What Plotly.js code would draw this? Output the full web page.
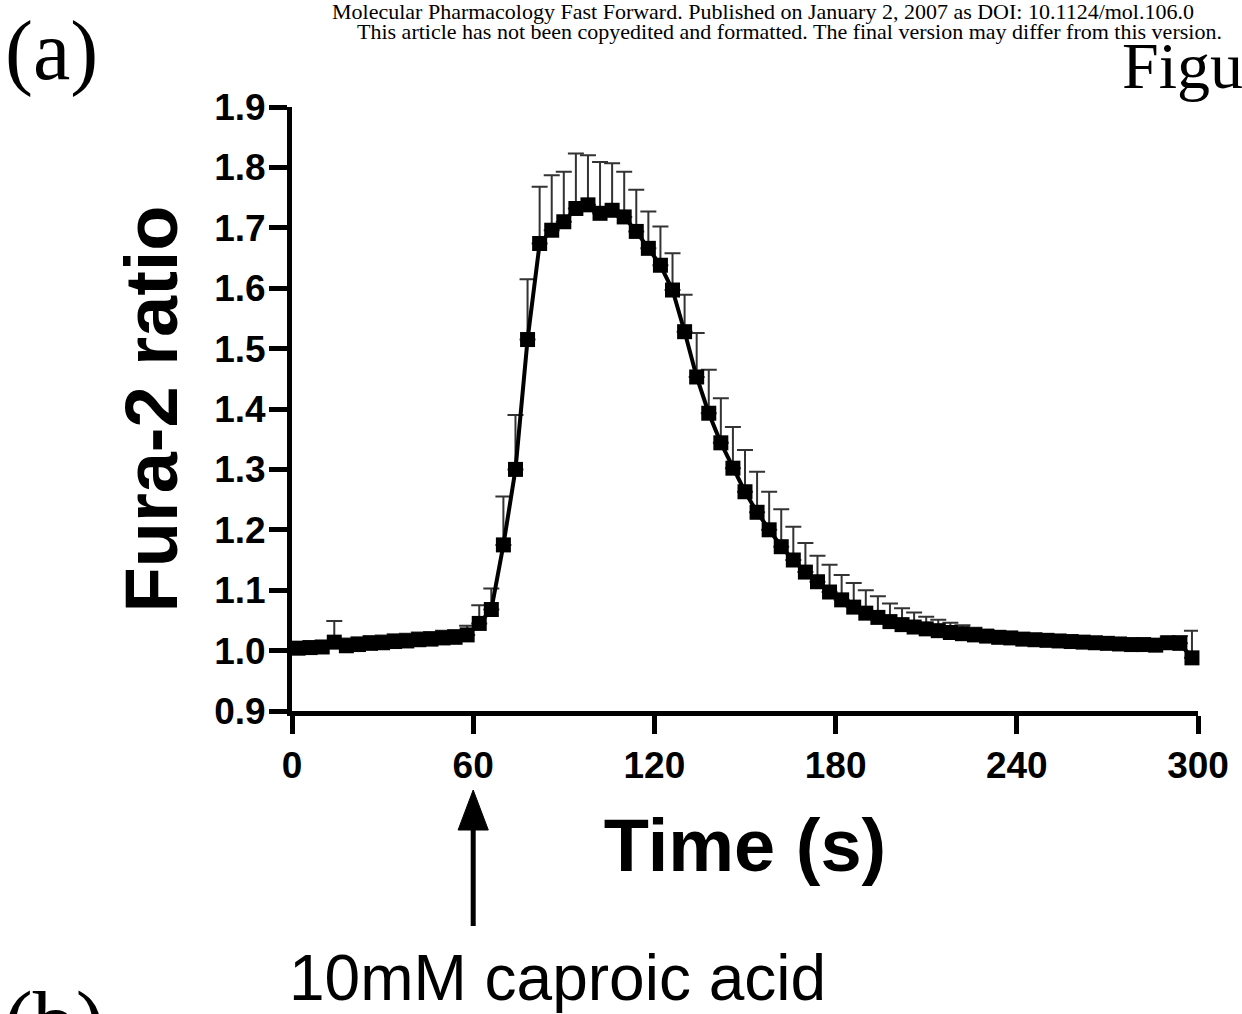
<!DOCTYPE html>
<html>
<head>
<meta charset="utf-8">
<script src="https://cdn.plot.ly/plotly-3.0.1.min.js"></script>
<style>
  html, body { margin: 0; padding: 0; background: #ffffff; }
  #chart { width: 1242px; height: 1014px; }
</style>
</head>
<body>
<div id="chart"></div>
<script>
// ---- data ----
const timeSeconds = [-2, 2, 6, 10, 14, 18, 22, 26, 30, 34, 38, 42, 46, 50, 54, 58, 62, 66, 70, 74, 78,
  82, 86, 90, 94, 98, 102, 106, 110, 114, 118, 122, 126, 130, 134, 138, 142, 146, 150, 154, 158,
  162, 166, 170, 174, 178, 182, 186, 190, 194, 198, 202, 206, 210, 214, 218, 222, 226, 230, 234, 238,
  242, 246, 250, 254, 258, 262, 266, 270, 274, 278, 282, 286, 290, 294, 298];
const fura2Ratio = [1.003, 1.004, 1.005, 1.006, 1.014, 1.008, 1.010, 1.012, 1.013, 1.015, 1.016, 1.018, 1.019, 1.021, 1.022, 1.026, 1.045, 1.068, 1.175, 1.300, 1.515,
  1.674, 1.696, 1.710, 1.732, 1.738, 1.724, 1.729, 1.718, 1.694, 1.666, 1.638, 1.597, 1.528, 1.453, 1.393, 1.344, 1.302, 1.263, 1.229, 1.200,
  1.172, 1.150, 1.130, 1.114, 1.097, 1.084, 1.072, 1.062, 1.055, 1.048, 1.043, 1.039, 1.036, 1.033, 1.030, 1.028, 1.026, 1.024, 1.022, 1.021,
  1.019, 1.018, 1.017, 1.016, 1.015, 1.014, 1.013, 1.012, 1.011, 1.010, 1.010, 1.009, 1.013, 1.012, 0.988];
const fura2Sem = [0.010, 0.010, 0.010, 0.010, 0.035, 0.012, 0.012, 0.012, 0.012, 0.012, 0.012, 0.012, 0.012, 0.012, 0.012, 0.015, 0.030, 0.035, 0.080, 0.090, 0.100,
  0.094, 0.091, 0.083, 0.091, 0.082, 0.085, 0.078, 0.075, 0.069, 0.061, 0.064, 0.061, 0.061, 0.073, 0.072, 0.074, 0.068, 0.069, 0.067, 0.063,
  0.062, 0.055, 0.048, 0.043, 0.045, 0.041, 0.040, 0.038, 0.035, 0.030, 0.027, 0.024, 0.020, 0.018, 0.016, 0.014, 0.012, 0.010, 0.010, 0.008,
  0.008, 0.008, 0.008, 0.008, 0.008, 0.008, 0.008, 0.008, 0.008, 0.008, 0.008, 0.008, 0.010, 0.012, 0.045];
const xTickVals = [0, 60, 120, 180, 240, 300];
const xTickText = ['0', '60', '120', '180', '240', '300'];
const yTickVals = [0.9, 1.0, 1.1, 1.2, 1.3, 1.4, 1.5, 1.6, 1.7, 1.8, 1.9];
const yTickText = ['0.9', '1.0', '1.1', '1.2', '1.3', '1.4', '1.5', '1.6', '1.7', '1.8', '1.9'];
const stimulusTime = 60;
const stimulusLabel = '10mM caproic acid';
const xTitle = 'Time (s)';
const yTitle = 'Fura-2 ratio';
const headerLine1 = 'Molecular Pharmacology Fast Forward. Published on January 2, 2007 as DOI: 10.1124/mol.106.0';
const headerLine2 = 'This article has not been copyedited and formatted. The final version may differ from this version.';

// ---- layout geometry ----
const W = 1242, H = 1014;
const M = { l: 292, r: 44, t: 107, b: 303 };
const plotH = H - M.t - M.b;
const plotW = W - M.l - M.r;
// pixel -> paper helpers for decorations outside the plot area
const px2paperX = px => (px - M.l) / plotW;
const py2paperY = py => (H - M.b - py) / plotH;

const sansBold = { family: 'Liberation Sans, Arial, sans-serif', color: '#000', weight: 'bold' };
const serif = 'Liberation Serif, Times New Roman, serif';

const trace = {
  type: 'scatter',
  mode: 'lines+markers',
  x: timeSeconds,
  y: fura2Ratio,
  cliponaxis: false,
  line: { color: '#000', width: 4 },
  marker: { symbol: 'square', size: 15, color: '#000', line: { width: 0 } },
  error_y: {
    type: 'data', symmetric: false, array: fura2Sem, arrayminus: fura2Sem.map(() => 0),
    color: '#333', thickness: 2, width: 8
  },
  hoverinfo: 'x+y'
};

const arrowTipPy = 790, arrowBasePy = 830, arrowTailPy = 926, headHalf = 5; // headHalf in seconds
const yTip = py2paperY(arrowTipPy), yBase = py2paperY(arrowBasePy), yTail = py2paperY(arrowTailPy);

const layout = {
  width: W, height: H,
  margin: M,
  paper_bgcolor: '#fff', plot_bgcolor: '#fff',
  showlegend: false,
  xaxis: {
    range: [0, 300], tickvals: xTickVals, ticktext: xTickText,
    showline: true, linecolor: '#000', linewidth: 5, mirror: false,
    ticks: 'outside', ticklen: 18, tickwidth: 5, tickcolor: '#000',
    tickfont: Object.assign({ size: 37 }, sansBold),
    showgrid: false, zeroline: false, automargin: false,
    title: { text: xTitle, font: Object.assign({ size: 74 }, sansBold), standoff: 35 }
  },
  yaxis: {
    range: [0.9, 1.9], tickvals: yTickVals, ticktext: yTickText,
    showline: true, linecolor: '#000', linewidth: 5, mirror: false,
    ticks: 'outside', ticklen: 18, tickwidth: 5, tickcolor: '#000',
    ticklabelstandoff: -4,
    tickfont: Object.assign({ size: 37 }, sansBold),
    showgrid: false, zeroline: false, automargin: false,
    title: { text: yTitle, font: Object.assign({ size: 74 }, sansBold), standoff: 14 }
  },
  shapes: [
    { type: 'line', xref: 'x', yref: 'paper', x0: stimulusTime, x1: stimulusTime, y0: yTail, y1: yBase,
      line: { color: '#000', width: 5 } },
    { type: 'path', xref: 'x', yref: 'paper',
      path: 'M ' + stimulusTime + ' ' + yTip + ' L ' + (stimulusTime - headHalf) + ' ' + yBase + ' L ' + (stimulusTime + headHalf) + ' ' + yBase + ' Z',
      fillcolor: '#000', line: { color: '#000', width: 1 } }
  ],
  annotations: [
    { text: stimulusLabel, xref: 'paper', yref: 'paper', x: px2paperX(557), y: py2paperY(978),
      xanchor: 'center', yanchor: 'middle', showarrow: false,
      font: { family: 'Liberation Sans, Arial, sans-serif', size: 64, color: '#000' } },
    { text: headerLine1, xref: 'paper', yref: 'paper', x: px2paperX(330), y: py2paperY(11),
      xanchor: 'left', yanchor: 'middle', showarrow: false,
      font: { family: serif, size: 22, color: '#000' } },
    { text: headerLine2, xref: 'paper', yref: 'paper', x: px2paperX(355), y: py2paperY(31),
      xanchor: 'left', yanchor: 'middle', showarrow: false,
      font: { family: serif, size: 22, color: '#000' } },
    { text: '(a)', xref: 'paper', yref: 'paper', x: px2paperX(3), y: py2paperY(51),
      xanchor: 'left', yanchor: 'middle', showarrow: false,
      font: { family: serif, size: 84, color: '#000' } },
    { text: 'Figure 1', xref: 'paper', yref: 'paper', x: px2paperX(1120), y: py2paperY(66),
      xanchor: 'left', yanchor: 'middle', showarrow: false,
      font: { family: serif, size: 66, color: '#000' } },
    { text: '(b)', xref: 'paper', yref: 'paper', x: px2paperX(2), y: py2paperY(1022),
      xanchor: 'left', yanchor: 'middle', showarrow: false,
      font: { family: serif, size: 86, color: '#000' } }
  ]
};

Plotly.newPlot('chart', [trace], layout, { displayModeBar: false, staticPlot: true });
</script>
</body>
</html>
